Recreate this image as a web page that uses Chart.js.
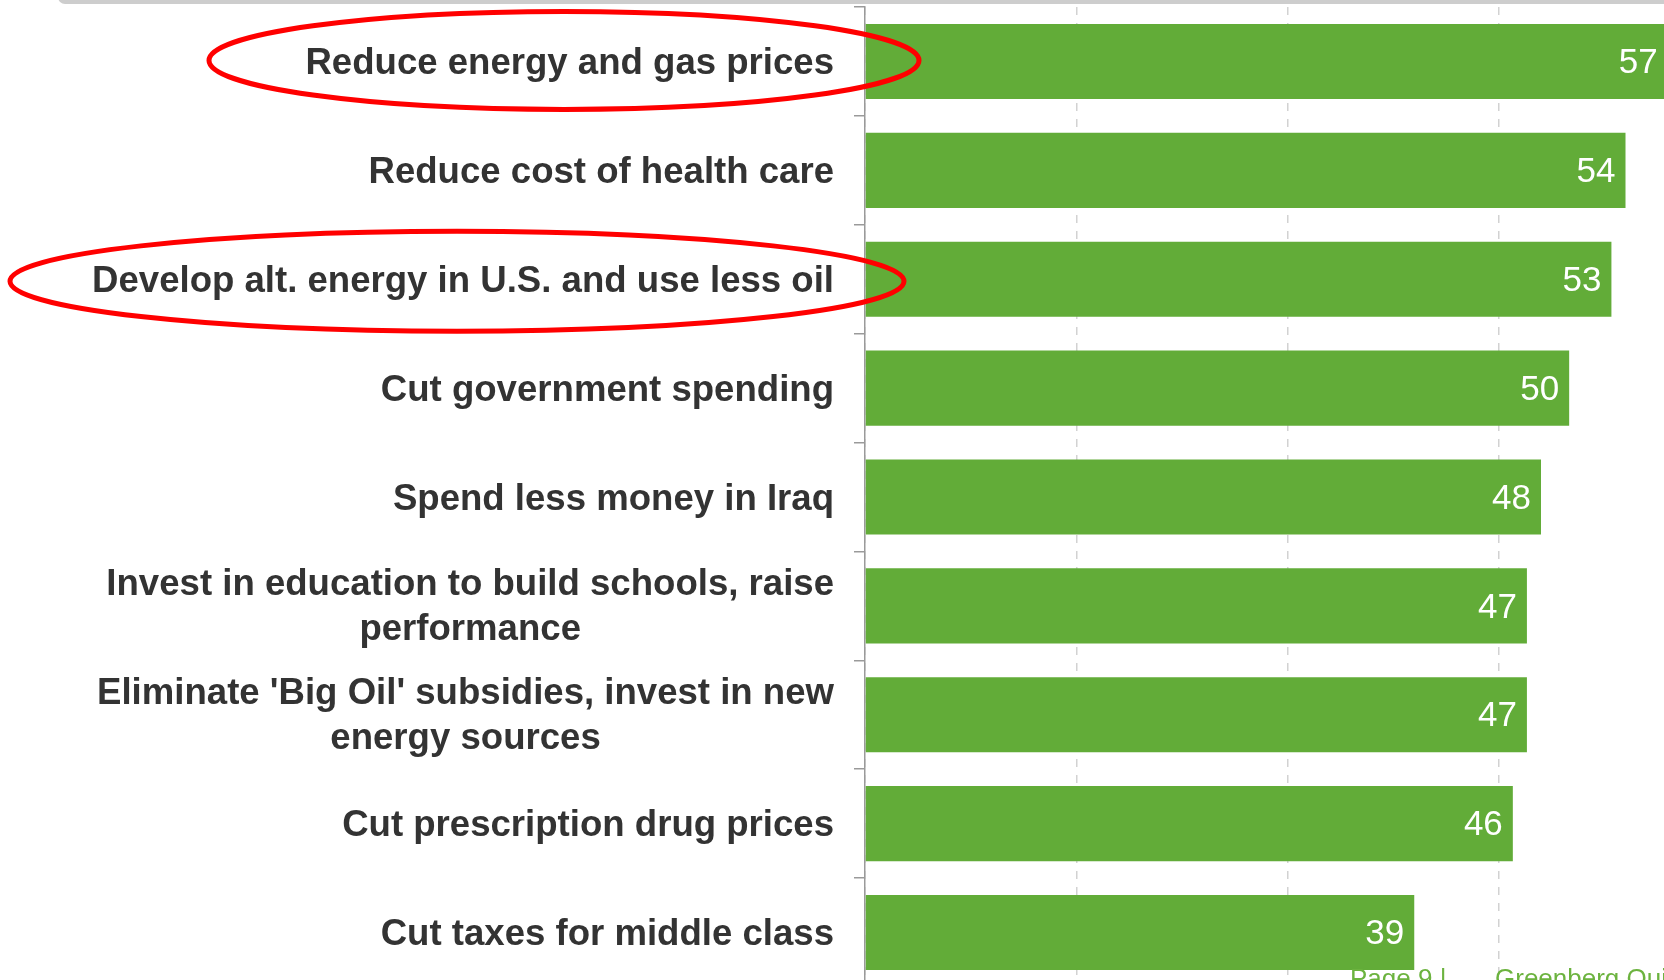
<!DOCTYPE html>
<html>
<head>
<meta charset="utf-8">
<script src="https://cdn.jsdelivr.net/npm/chart.js@4.4.1/dist/chart.umd.min.js"></script>
<style>
  html, body { margin: 0; padding: 0; background: #fff; overflow: hidden; width: 1664px; height: 980px; }
  #wrap { position: absolute; left: 0; top: 0; width: 1720px; height: 990px; }
  #topbar { position: absolute; left: 58px; top: -10px; width: 1700px; height: 14px; background: #cdcdcd; border-radius: 12px; }
  #footer { position: absolute; left: 1350px; top: 963px; font: 26px "Liberation Sans", Arial, sans-serif; color: #6cb33f; white-space: nowrap; }
  #footer .src { position: absolute; left: 145px; }
</style>
</head>
<body>
<div id="topbar"></div>
<div id="wrap"><canvas id="c" width="1720" height="990"></canvas></div>
<div id="footer"><span>Page 9 |</span><span class="src">Greenberg Quinlan Rosner Research</span></div>
<script>
const categories = [
  ["Reduce energy and gas prices"],
  ["Reduce cost of health care"],
  ["Develop alt. energy in U.S. and use less oil"],
  ["Cut government spending"],
  ["Spend less money in Iraq"],
  ["Invest in education to build schools, raise", "performance"],
  ["Eliminate 'Big Oil' subsidies, invest in new", "energy sources"],
  ["Cut prescription drug prices"],
  ["Cut taxes for middle class"]
];
const values = [57, 54, 53, 50, 48, 47, 47, 46, 39];
const highlighted = [0, 2];
const barColor = "#62ac38";

const labelFont = 'bold 36.6px "Liberation Sans", Arial, sans-serif';
const valueFont = '35px "Liberation Sans", Arial, sans-serif';

const categoryLabels = {
  id: 'categoryLabels',
  afterDraw(chart) {
    const ctx = chart.ctx;
    const ys = chart.scales.y;
    ctx.save();
    ctx.font = labelFont;
    ctx.fillStyle = '#333333';
    ctx.textBaseline = 'middle';
    ctx.textAlign = 'center';
    const rightEdge = ys.right - 31;
    const lineH = 45.5;
    categories.forEach((lines, i) => {
      const cy = ys.getPixelForValue(i);
      const w = Math.max(...lines.map(l => ctx.measureText(l).width));
      const cx = rightEdge - w / 2;
      lines.forEach((l, j) => {
        const y = cy + (j - (lines.length - 1) / 2) * lineH;
        ctx.fillText(l, cx, y + (lines.length > 1 ? 1.5 : 2.5));
      });
    });
    ctx.restore();
  }
};

const valueLabels = {
  id: 'valueLabels',
  afterDatasetsDraw(chart) {
    const ctx = chart.ctx;
    const meta = chart.getDatasetMeta(0);
    ctx.save();
    ctx.font = valueFont;
    ctx.fillStyle = '#ffffff';
    ctx.textAlign = 'right';
    ctx.textBaseline = 'middle';
    meta.data.forEach((bar, i) => {
      ctx.fillText(String(values[i]), bar.x - 10, bar.y + 2);
    });
    ctx.restore();
  }
};

const ellipses = {
  id: 'ellipses',
  afterDraw(chart) {
    const ctx = chart.ctx;
    const ys = chart.scales.y;
    const specs = { 0: { cx: 564, rx: 355, ry: 49, dy: -1 }, 2: { cx: 457, rx: 447, ry: 50, dy: 2 } };
    ctx.save();
    ctx.strokeStyle = '#ff0000';
    ctx.lineWidth = 5;
    highlighted.forEach(i => {
      const s = specs[i];
      const cy = ys.getPixelForValue(i) + s.dy;
      ctx.beginPath();
      ctx.ellipse(s.cx, cy, s.rx, s.ry, 0, 0, Math.PI * 2);
      ctx.stroke();
    });
    ctx.restore();
  }
};

new Chart(document.getElementById('c'), {
  type: 'bar',
  data: {
    labels: categories,
    datasets: [{
      data: values,
      backgroundColor: barColor,
      borderWidth: 0,
      barPercentage: 0.69,
      categoryPercentage: 1.0
    }]
  },
  options: {
    indexAxis: 'y',
    responsive: false,
    animation: false,
    devicePixelRatio: 1,
    layout: { padding: { top: 7, right: 10, bottom: 3, left: 0 } },
    plugins: { legend: { display: false }, tooltip: { enabled: false } },
    scales: {
      x: {
        min: 0, max: 60,
        ticks: { display: false, stepSize: 15 },
        grid: { color: '#d2d2d2', lineWidth: 1.5, drawTicks: false },
        border: { display: false, dash: [8, 8] }
      },
      y: {
        ticks: { display: false },
        grid: { drawOnChartArea: false, drawTicks: true, tickLength: 11, color: '#9a9a9a', lineWidth: 1.5 },
        border: { display: true, color: '#9a9a9a', width: 1.5 },
        afterFit(scale) { scale.width = 865; }
      }
    }
  },
  plugins: [valueLabels, categoryLabels, ellipses]
});
</script>
</body>
</html>
